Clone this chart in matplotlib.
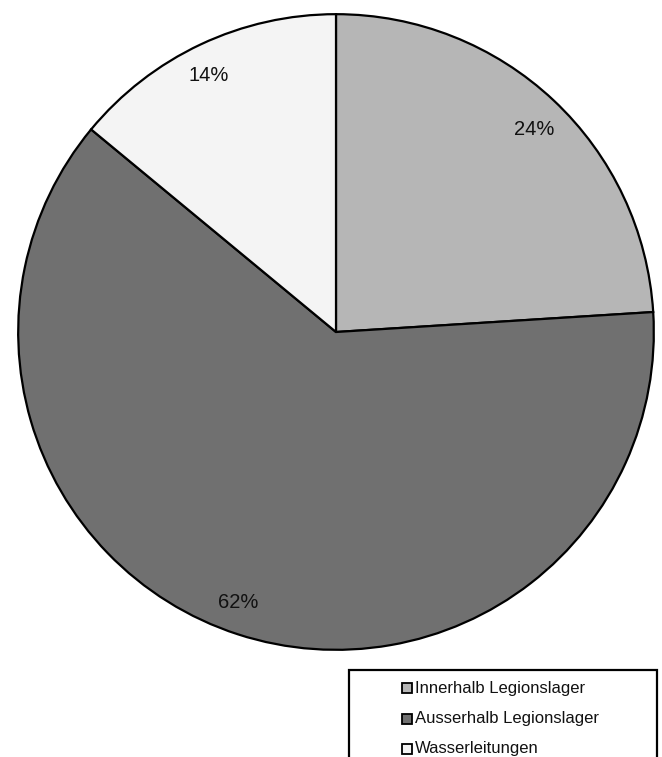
import matplotlib
matplotlib.use("Agg")
import matplotlib.pyplot as plt
from matplotlib.patches import Rectangle
import numpy as np

categories = ["Innerhalb Legionslager", "Ausserhalb Legionslager", "Wasserleitungen"]
values = [24, 62, 14]
pct_labels = ["24%", "62%", "14%"]
colors = ["#b6b6b6", "#707070", "#f4f4f4"]
# label placement (angle in degrees, radius fraction) for each percentage text
label_pos = [(45.6, 0.89), (-109.9, 0.905), (116.4, 0.90)]

W, H = 662, 757
fig = plt.figure(figsize=(W / 100, H / 100), dpi=100)
fig.patch.set_facecolor("white")
plt.rcParams["font.family"] = ["Liberation Sans", "DejaVu Sans"]

# pie axes (pixel geometry)
cx, cy, r = 336, 332, 321
ax = fig.add_axes([(cx - r) / W, (H - cy - r) / H, 2 * r / W, 2 * r / H])
ax.pie(values, colors=colors, startangle=90, counterclock=False,
       wedgeprops=dict(edgecolor="black", linewidth=1.6), radius=1.0)
ax.set_xlim(-1.01, 1.01)
ax.set_ylim(-1.01, 1.01)
ax.set_aspect("equal")
ax.axis("off")

for txt, (ang, rr) in zip(pct_labels, label_pos):
    a = np.deg2rad(ang)
    ax.text(rr * np.cos(a), rr * np.sin(a), txt, ha="center", va="center",
            fontsize=14.5, color="#111111")

# legend box (cut off at bottom of figure)
bx0, by0, bx1 = 349, 670, 657
fig.patches.append(Rectangle((bx0 / W, -0.05), (bx1 - bx0) / W, (H - by0) / H + 0.05,
                             transform=fig.transFigure, facecolor="white",
                             edgecolor="black", linewidth=1.6, zorder=1))
row_y = [688, 719, 749]
for cat, col, yy in zip(categories, colors, row_y):
    fig.patches.append(Rectangle((402 / W, (H - yy - 5) / H), 10 / W, 10 / H,
                                 transform=fig.transFigure, facecolor=col,
                                 edgecolor="black", linewidth=1.3, zorder=2))
    fig.text(415 / W, (H - yy) / H, cat, ha="left", va="center",
             fontsize=12, color="#111111", zorder=3)

fig.savefig("out.png", dpi=100, facecolor="white")
